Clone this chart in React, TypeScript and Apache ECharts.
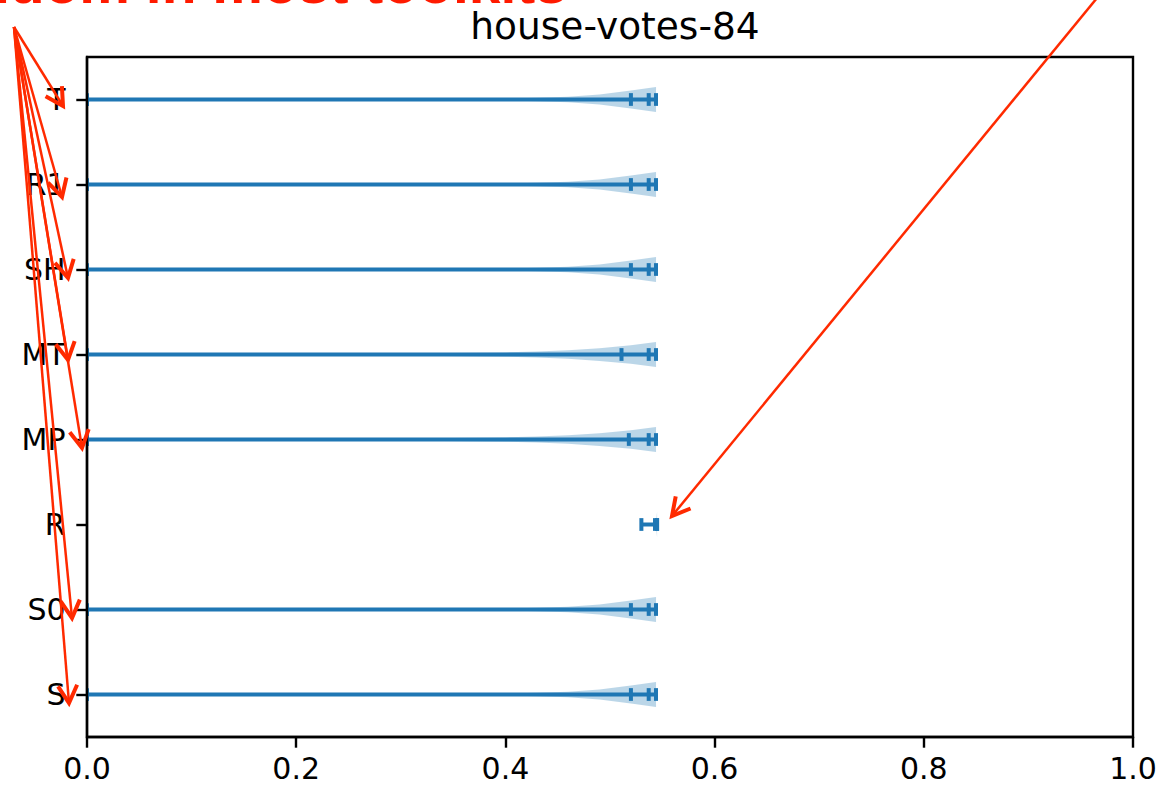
import React, { useEffect, useRef } from "react";
import * as echarts from "echarts";

// Categories from bottom (position 1) to top
const categories = ["S", "S0", "R", "MP", "MT", "SH", "R1", "T"];

// Per-category summary statistics
const mins = [0, 0, 0.53, 0, 0, 0, 0, 0];
const maxes = [0.544, 0.544, 0.545, 0.544, 0.544, 0.544, 0.544, 0.544];
const means = [0.52, 0.52, 0.543, 0.518, 0.511, 0.52, 0.52, 0.52];
const medians = [0.537, 0.537, 0.545, 0.537, 0.537, 0.537, 0.537, 0.537];

// Kernel density outlines: evaluation points and half-widths (in category units)
const gridStd = [0, 0.1, 0.2, 0.3, 0.4, 0.43, 0.46, 0.49, 0.52, 0.544];
const widthStd = [0.003, 0.003, 0.004, 0.006, 0.012, 0.02, 0.032, 0.06, 0.105, 0.148];
const widthWide = [0.003, 0.004, 0.006, 0.012, 0.025, 0.035, 0.05, 0.075, 0.108, 0.148];
const gridR = [0.53, 0.54, 0.544, 0.545];
const widthR = [0.002, 0.004, 0.03, 0.15];

const violinGrids = [gridStd, gridStd, gridR, gridStd, gridStd, gridStd, gridStd, gridStd];
const violinWidths = [widthStd, widthStd, widthR, widthWide, widthWide, widthStd, widthStd, widthStd];

const xTicks = [0, 0.2, 0.4, 0.6, 0.8, 1.0];

const BLUE = "#1f77b4";
const RED = "#ff2a00";
const CAP_HALF = 0.075;

// Annotation arrows (pixel positions of the callouts)
const fanOrigin: [number, number] = [14, 27];
const fanTips: [number, number][] = [
  [63, 106],
  [62, 197],
  [68, 278],
  [68, 360],
  [82, 448],
  [72, 618],
  [69, 703],
];
const sideArrow: [[number, number], [number, number]] = [
  [1097, -2],
  [672, 516],
];

function arrow(from: [number, number], to: [number, number]) {
  const dx = to[0] - from[0];
  const dy = to[1] - from[1];
  const len = Math.hypot(dx, dy);
  const ux = dx / len;
  const uy = dy / len;
  const head = 20;
  const spread = 0.5;
  const cos = Math.cos(spread);
  const sin = Math.sin(spread);
  const l: [number, number] = [
    to[0] - head * (ux * cos - uy * sin),
    to[1] - head * (uy * cos + ux * sin),
  ];
  const r: [number, number] = [
    to[0] - head * (ux * cos + uy * sin),
    to[1] - head * (uy * cos - ux * sin),
  ];
  return [
    {
      type: "line",
      shape: { x1: from[0], y1: from[1], x2: to[0], y2: to[1] },
      style: { stroke: RED, lineWidth: 2.5 },
      z: 100,
    },
    {
      type: "polyline",
      shape: { points: [l, to, r] },
      style: { stroke: RED, lineWidth: 4, fill: null, lineJoin: "miter" },
      z: 100,
    },
  ];
}

export default function App() {
  const ref = useRef<HTMLDivElement>(null);

  useEffect(() => {
    document.body.style.margin = "0";
    if (!ref.current) return;
    const chart = echarts.init(ref.current, undefined, { renderer: "svg" });

    const renderItem = (params: any, api: any) => {
      const i = api.value(0) as number;
      const grid = violinGrids[i];
      const hw = violinWidths[i];
      const band = api.size([0, 1])[1];
      const top: number[][] = [];
      const bottom: number[][] = [];
      for (let k = 0; k < grid.length; k++) {
        const p = api.coord([grid[k], i]);
        top.push([p[0], p[1] - hw[k] * band]);
        bottom.unshift([p[0], p[1] + hw[k] * band]);
      }
      const children: any[] = [
        {
          type: "polygon",
          shape: { points: top.concat(bottom) },
          style: { fill: "rgba(31,119,180,0.3)", stroke: null },
        },
      ];
      const a = api.coord([mins[i], i]);
      const b = api.coord([maxes[i], i]);
      children.push({
        type: "line",
        shape: { x1: a[0], y1: a[1], x2: b[0], y2: b[1] },
        style: { stroke: BLUE, lineWidth: 4 },
      });
      [mins[i], maxes[i], means[i], medians[i]].forEach((v) => {
        const c = api.coord([v, i]);
        children.push({
          type: "line",
          shape: { x1: c[0], y1: c[1] - CAP_HALF * band, x2: c[0], y2: c[1] + CAP_HALF * band },
          style: { stroke: BLUE, lineWidth: 4 },
        });
      });
      return { type: "group", children };
    };

    const graphics: any[] = [];
    fanTips.forEach((t) => graphics.push(...arrow(fanOrigin, t)));
    graphics.push(...arrow(sideArrow[0], sideArrow[1]));
    graphics.push({
      type: "text",
      x: 567,
      y: -17,
      z: 100,
      style: {
        text: "random in most toolkits",
        fill: "#ff1a00",
        font: "bold 57px 'Liberation Sans', Arial, sans-serif",
        textAlign: "right",
        textVerticalAlign: "middle",
      },
    });

    chart.setOption({
      animation: false,
      title: {
        text: "house-votes-84",
        left: 610,
        top: 2,
        textAlign: "center",
        textStyle: {
          fontFamily: "DejaVu Sans",
          fontSize: 37.5,
          fontWeight: "normal",
          color: "#000",
        },
      },
      grid: {
        left: 87,
        right: 39,
        top: 57,
        bottom: 48,
        show: true,
        borderColor: "#000",
        borderWidth: 2.4,
        backgroundColor: "transparent",
      },
      xAxis: {
        type: "value",
        min: xTicks[0],
        max: xTicks[xTicks.length - 1],
        interval: 0.2,
        z: 10,
        splitLine: { show: false },
        axisLine: { show: true, lineStyle: { color: "#000", width: 2.4 } },
        axisTick: { show: true, length: 10.7, lineStyle: { color: "#000", width: 2.4 } },
        axisLabel: {
          fontFamily: "DejaVu Sans",
          fontSize: 30,
          lineHeight: 28,
          color: "#000",
          margin: 17,
          formatter: (v: number) => v.toFixed(1),
        },
      },
      yAxis: {
        type: "category",
        data: categories,
        boundaryGap: true,
        z: 10,
        axisLine: { show: true, lineStyle: { color: "#000", width: 2.4 } },
        axisTick: { show: true, alignWithLabel: true, length: 10.7, lineStyle: { color: "#000", width: 2.4 } },
        axisLabel: {
          fontFamily: "DejaVu Sans",
          fontSize: 30,
          color: "#000",
          margin: 21.4,
        },
        splitLine: { show: false },
      },
      series: [
        {
          type: "custom",
          renderItem,
          encode: { x: -1, y: 0 },
          data: categories.map((_, i) => [i]),
          clip: true,
          z: 1,
        },
      ],
      graphic: graphics,
    });

    return () => chart.dispose();
  }, []);

  return (
    <div
      ref={ref}
      style={{ position: "absolute", left: 0, top: 0, width: 1172, height: 785 }}
    />
  );
}
